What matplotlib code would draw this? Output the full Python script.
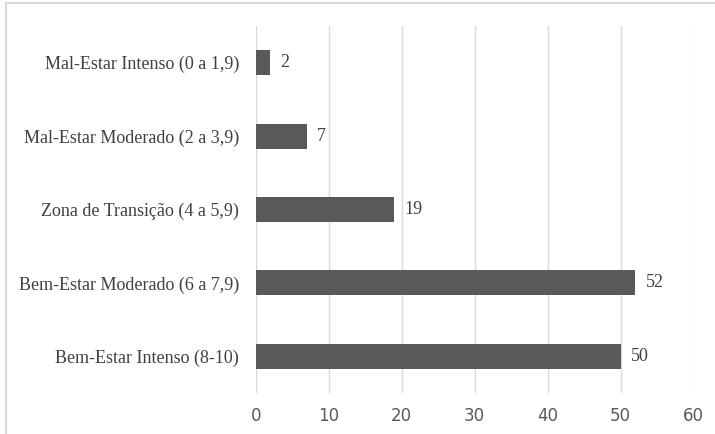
import matplotlib.pyplot as plt
from matplotlib.patches import Rectangle

categorias = ['Mal-Estar Intenso (0 a 1,9)', 'Mal-Estar Moderado (2 a 3,9)',
              'Zona de Transição (4 a 5,9)', 'Bem-Estar Moderado (6 a 7,9)',
              'Bem-Estar Intenso (8-10)']
valores = [2, 7, 19, 52, 50]
ticks_x = [0, 10, 20, 30, 40, 50, 60]

cor_barra = '#595959'
serif = ['Liberation Serif', 'DejaVu Serif']

fig = plt.figure(figsize=(7.15, 4.34), dpi=100)
ax = fig.add_axes([0.3576, 0.0945, 0.6125, 0.8455])

pos = list(range(len(categorias)))
ax.barh(pos, valores, height=0.34, color=cor_barra, zorder=3)
ax.set_ylim(len(categorias) - 0.5, -0.5)
ax.set_xlim(0, 60)
ax.set_xticks(ticks_x)
ax.set_yticks(pos)
ax.set_yticklabels(categorias, family=serif, fontsize=13, color='#404040')

for p, v in zip(pos, valores):
    ax.text(v + 1.4, p, str(v), va='center', ha='left', family=serif,
            fontsize=13, color='#404040')

for s in ax.spines.values():
    s.set_visible(False)
ax.grid(axis='x', color='#d9d9d9', linewidth=1, zorder=0)
ax.tick_params(axis='both', length=0)
ax.tick_params(axis='y', pad=12)
ax.tick_params(axis='x', pad=10, labelcolor='#595959', labelsize=12)
for lb in ax.get_xticklabels():
    lb.set_family(['Liberation Sans Narrow', 'DejaVu Sans'])

# moldura cortada (só esquerda e topo visíveis)
fig.patches.append(Rectangle((0.009, -0.05), 1.1, 1.043, transform=fig.transFigure,
                             fill=False, edgecolor='#d9d9d9', linewidth=1.5))

fig.savefig('out.png', dpi=100)
